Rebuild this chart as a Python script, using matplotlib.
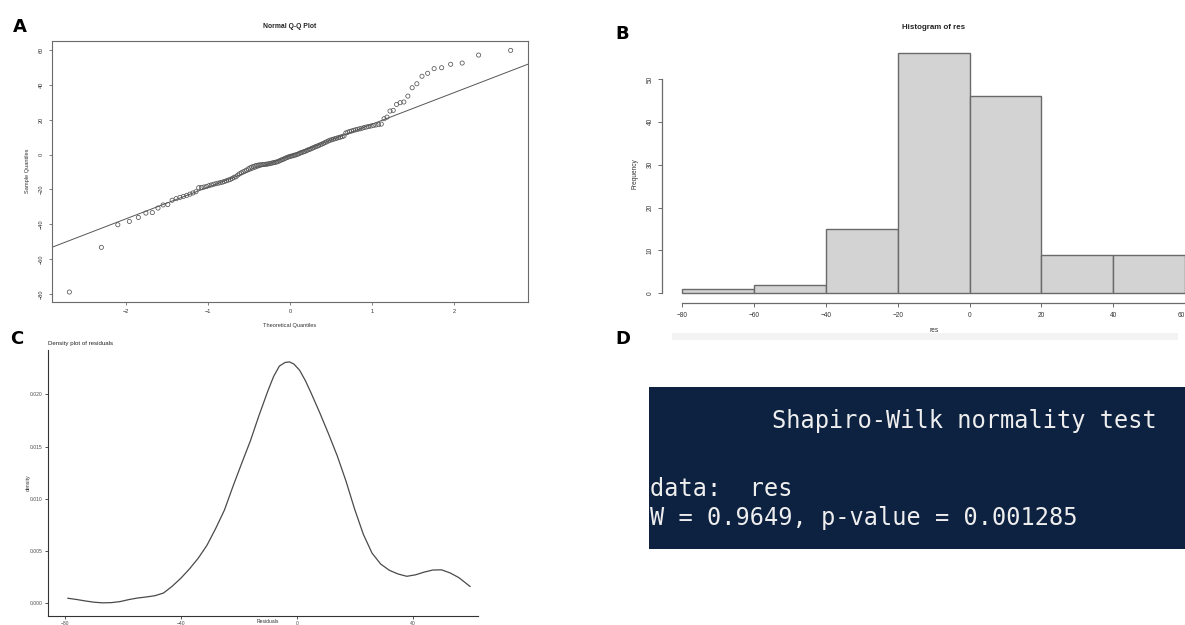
import numpy as np
import matplotlib
matplotlib.use("Agg")
import matplotlib.pyplot as plt
from matplotlib.patches import Rectangle
from statistics import NormalDist

# ---------------- data ----------------
# sorted residuals (n = 138)
residuals = [
    -79.0, -53.3, -40.3, -38.4, -36.1, -33.6, -33.3, -30.7, -28.9, -28.7,
    -26.2, -25.3, -24.6, -24.0, -23.4, -22.7, -22.0, -21.3, -19.0, -18.8,
    -18.6, -18.3, -17.8, -17.4, -17.0, -16.7, -16.4, -16.1, -15.8, -15.4,
    -15.0, -14.6, -14.2, -13.6, -13.0, -12.7, -11.7, -11.0, -10.4, -9.9,
    -9.4, -8.9, -8.2, -7.6, -7.2, -6.8, -6.5, -6.2, -6.0, -5.9,
    -5.8, -5.7, -5.6, -5.5, -5.4, -5.2, -5.0, -4.8, -4.6, -4.4,
    -4.2, -3.9, -3.5, -3.1, -2.8, -2.4, -2.0, -1.6, -1.3, -1.0,
    -0.8, -0.6, -0.3, -0.1, 0.2, 0.6, 1.0, 1.3, 1.6, 1.9,
    2.3, 2.7, 3.0, 3.4, 3.8, 4.2, 4.6, 4.9, 5.3, 5.7,
    6.1, 6.5, 7.0, 7.4, 7.9, 8.3, 8.6, 8.9, 9.2, 9.5,
    9.8, 10.1, 10.4, 10.8, 12.5, 12.9, 13.3, 13.6, 14.0, 14.3,
    14.6, 14.9, 15.2, 15.6, 15.9, 16.2, 16.5, 16.8, 17.1, 17.3,
    17.6, 20.7, 21.6, 25.1, 25.5, 28.9, 29.9, 30.3, 33.7, 38.5,
    40.8, 45.1, 46.8, 49.5, 50.0, 52.0, 52.7, 57.3, 60.0,
]

hist_edges = [-80, -60, -40, -20, 0, 20, 40, 60]
hist_counts = [1, 2, 15, 56, 46, 9, 9]

dens_x = [-79.1, -76, -73, -70, -67, -64, -61, -58, -55, -52, -49, -46, -43,
          -40, -37, -34, -31, -28, -25, -22, -19, -16, -13, -10, -8, -6, -4,
          -2.5, -1, 1, 3, 5, 8, 11, 14, 17, 20, 23, 26, 29, 32, 35, 38, 41,
          44, 47, 50, 53, 56, 59.9]
dens_y = [0.00048, 0.00036, 0.00022, 0.00010, 0.00004, 0.00006, 0.00016,
          0.00035, 0.00050, 0.00060, 0.00072, 0.00098, 0.00163, 0.00240,
          0.00330, 0.00432, 0.00555, 0.00715, 0.00890, 0.01120, 0.01340,
          0.01555, 0.01800, 0.02030, 0.02170, 0.02270, 0.02305, 0.02310,
          0.02290, 0.02230, 0.02130, 0.02010, 0.01820, 0.01620, 0.01410,
          0.01170, 0.00900, 0.00660, 0.00480, 0.00375, 0.00315, 0.00280,
          0.00258, 0.00272, 0.00298, 0.00318, 0.00320, 0.00290, 0.00245,
          0.00160]

test_title = "Shapiro-Wilk normality test"
test_data = "data:  res"
test_result = "W = 0.9649, p-value = 0.001285"

# ---------------- figure ----------------
W, H = 1185, 625
fig = plt.figure(figsize=(W / 100, H / 100), dpi=100)
fig.patch.set_facecolor("white")


def box(left, top, right, bottom):
    return [left / W, 1 - bottom / H, (right - left) / W, (bottom - top) / H]


def ftext(x, y, s, **kw):
    return fig.text(x / W, 1 - y / H, s, **kw)


RFONT = ["Liberation Sans", "DejaVu Sans"]

# ---------- Panel A: Normal Q-Q plot ----------
n = len(residuals)
res = np.array(residuals)
theo = np.array([NormalDist().inv_cdf((i - 0.5) / n) for i in range(1, n + 1)])

ax1 = fig.add_axes(box(51.7, 40.7, 528.3, 301.7))
ax1.scatter(theo, res, s=9, facecolors="none", edgecolors="#555555",
            linewidths=0.55, zorder=3)
q1, q3 = np.quantile(res, [0.25, 0.75])
z1, z3 = NormalDist().inv_cdf(0.25), NormalDist().inv_cdf(0.75)
slope = (q3 - q1) / (z3 - z1)
intercept = q1 - slope * z1
ax1.axline((0, intercept), slope=slope, color="#555555", lw=0.7)
xr = theo.max() - theo.min()
yr = res.max() - res.min()
ax1.set_xlim(theo.min() - 0.04 * xr, theo.max() + 0.04 * xr)
ax1.set_ylim(res.min() - 0.04 * yr, res.max() + 0.04 * yr)
ax1.set_xticks([-2, -1, 0, 1, 2])
ax1.set_yticks([-80, -60, -40, -20, 0, 20, 40, 60])
for sp in ax1.spines.values():
    sp.set_color("#6a6a6a")
    sp.set_linewidth(0.8)
ax1.tick_params(direction="out", length=2.4, width=0.6, color="#6a6a6a",
                labelsize=4.05, labelcolor="#333333", pad=3.2)
ax1.tick_params(axis="y", labelrotation=90)
for lab in ax1.get_yticklabels():
    lab.set_va("center")
    lab.set_family(RFONT)
for lab in ax1.get_xticklabels():
    lab.set_family(RFONT)
ftext(290, 26.7, "Normal Q-Q Plot", ha="center", va="center", size=4.9,
      weight="bold", family=RFONT, color="#222222")
ftext(290, 326, "Theoretical Quantiles", ha="center", va="center", size=4.05,
      family=RFONT, color="#333333")
ftext(27.3, 171, "Sample Quantiles", ha="center", va="center", size=4.05,
      rotation=90, family=RFONT, color="#333333")

# ---------- Panel B: Histogram ----------
ax2 = fig.add_axes(box(662.4, 43.7, 1205, 302.9))
ax2.bar(hist_edges[:-1], hist_counts, width=np.diff(hist_edges), align="edge",
        color="#D3D3D3", edgecolor="#6a6a6a", linewidth=1.0)
ax2.set_xlim(-85.6, 65.6)
ax2.set_ylim(-2.24, 58.24)
ax2.spines["top"].set_visible(False)
ax2.spines["right"].set_visible(False)
ax2.spines["left"].set_bounds(0, 50)
ax2.spines["bottom"].set_bounds(-80, 60)
for sp in ("left", "bottom"):
    ax2.spines[sp].set_color("#6a6a6a")
    ax2.spines[sp].set_linewidth(0.9)
ax2.set_xticks(hist_edges)
ax2.set_yticks([0, 10, 20, 30, 40, 50])
ax2.tick_params(direction="out", length=2.8, width=0.7, color="#6a6a6a",
                labelsize=4.7, labelcolor="#333333", pad=3.4)
ax2.tick_params(axis="y", labelrotation=90)
for lab in ax2.get_yticklabels():
    lab.set_va("center")
    lab.set_family(RFONT)
xlabs = ax2.get_xticklabels()
for lab in xlabs:
    lab.set_family(RFONT)
xlabs[-1].set_ha("right")   # keep the last label inside the picture
ftext(933.7, 27.3, "Histogram of res", ha="center", va="center", size=5.7,
      weight="bold", family=RFONT, color="#222222")
ftext(933.7, 331, "res", ha="center", va="center", size=4.7,
      family=RFONT, color="#333333")
ftext(634.7, 173.3, "Frequency", ha="center", va="center", size=4.7,
      rotation=90, family=RFONT, color="#333333")
# faint shadow band under the histogram screenshot
fig.patches.append(Rectangle((672 / W, 1 - 340 / H), (1178 - 672) / W, 7 / H,
                             transform=fig.transFigure, facecolor="#f3f3f3",
                             edgecolor="none", zorder=0))

# ---------- Panel C: Density ----------
ax3 = fig.add_axes(box(47.7, 350, 478.3, 616))
ax3.plot(dens_x, dens_y, color="#4a4a4a", lw=0.9, solid_capstyle="round",
         solid_joinstyle="round")
ax3.set_xlim(-86.0, 62.7)
ax3.set_ylim(-0.00122, 0.02424)
ax3.spines["top"].set_visible(False)
ax3.spines["right"].set_visible(False)
for sp in ("left", "bottom"):
    ax3.spines[sp].set_color("#333333")
    ax3.spines[sp].set_linewidth(0.8)
ax3.set_xticks([-80, -40, 0, 40])
ax3.set_yticks([0.0, 0.005, 0.010, 0.015, 0.020])
ax3.set_yticklabels(["0.000", "0.005", "0.010", "0.015", "0.020"])
ax3.tick_params(direction="out", length=2.0, width=0.6, color="#333333",
                labelsize=3.6, labelcolor="#4d4d4d", pad=1.5)
for lab in ax3.get_yticklabels() + ax3.get_xticklabels():
    lab.set_family(RFONT)
ftext(47.7, 344, "Density plot of residuals", ha="left", va="center",
      size=4.46, family=RFONT, color="#222222")
ftext(28, 483, "density", ha="center", va="center", size=3.7, rotation=90,
      family=RFONT, color="#333333")
ftext(268, 621.3, "Residuals", ha="center", va="center", size=3.6,
      family=RFONT, color="#333333")

# ---------- Panel D: Shapiro-Wilk console output ----------
fig.patches.append(Rectangle((649.3 / W, 1 - 549.3 / H), (W + 5 - 649.3) / W,
                             (549.3 - 387.3) / H, transform=fig.transFigure,
                             facecolor="#0d2241", edgecolor="none", zorder=0))
MONO = ["DejaVu Sans Mono"]
ftext(771.7, 428.3, test_title, ha="left", va="baseline", size=17,
      family=MONO, color="#eeeeee")
ftext(650, 496, test_data, ha="left", va="baseline", size=17,
      family=MONO, color="#eeeeee")
ftext(650, 525, test_result, ha="left", va="baseline", size=17,
      family=MONO, color="#eeeeee")

# ---------- panel letters ----------
for letter, x, y in (("A", 12.5, 31.7), ("B", 615, 39), ("C", 10, 344),
                     ("D", 615, 343.5)):
    ftext(x, y, letter, ha="left", va="baseline", size=13, weight="bold",
          family=["DejaVu Sans"], color="black")

fig.savefig("out.png", dpi=100)
